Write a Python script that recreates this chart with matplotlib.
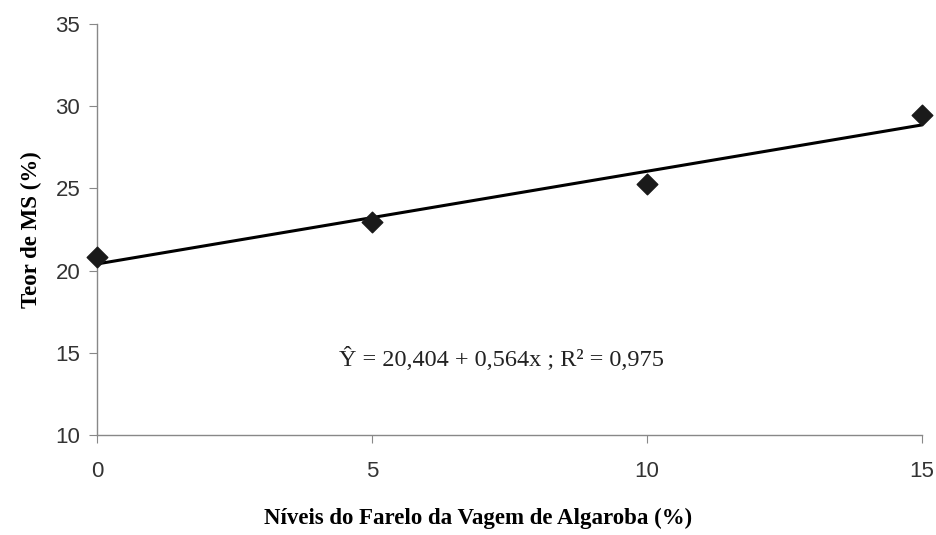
import numpy as np
import matplotlib.pyplot as plt

# data
niveis = [0, 5, 10, 15]
teor_ms = [20.85, 22.95, 25.25, 29.45]
intercepto = 20.404
inclinacao = 0.564

fig = plt.figure(figsize=(9.36, 5.35), dpi=100)
ax = fig.add_axes([0.1036, 0.187, 0.8814, 0.768])

# regression line
xl = np.array([niveis[0], niveis[-1]])
ax.plot(xl, intercepto + inclinacao * xl, color="black", lw=2.2, zorder=2)
ax.scatter(niveis, teor_ms, marker="D", s=110, color="#1a1a1a", zorder=3,
           clip_on=False)

ax.set_xlim(0, 15)
ax.set_ylim(10, 35)
ax.set_xticks([0, 5, 10, 15])
ax.set_yticks([10, 15, 20, 25, 30, 35])

for s in ["top", "right"]:
    ax.spines[s].set_visible(False)
for s in ["left", "bottom"]:
    ax.spines[s].set_color("#888888")
    ax.spines[s].set_linewidth(1.0)
ax.tick_params(axis="both", direction="out", length=6, color="#888888",
               labelsize=16, labelcolor="#333333")
ax.tick_params(axis="x", pad=13)
ax.tick_params(axis="y", pad=6)
for lab in ax.get_xticklabels() + ax.get_yticklabels():
    lab.set_family("Liberation Sans")

ax.set_xlabel("Níveis do Farelo da Vagem de Algaroba (%)", family="Liberation Serif",
              fontweight="bold", fontsize=16.5)
ax.xaxis.set_label_coords(0.462, -0.178)
ax.set_ylabel("Teor de MS (%)", family="Liberation Serif",
              fontweight="bold", fontsize=16.5, labelpad=10)

ax.text(7.35, 14.6, "Ŷ = 20,404 + 0,564x ; R² = 0,975", family="Liberation Serif",
        fontsize=17.5, ha="center", va="center", color="#222222")

fig.savefig("out.png", dpi=100)
